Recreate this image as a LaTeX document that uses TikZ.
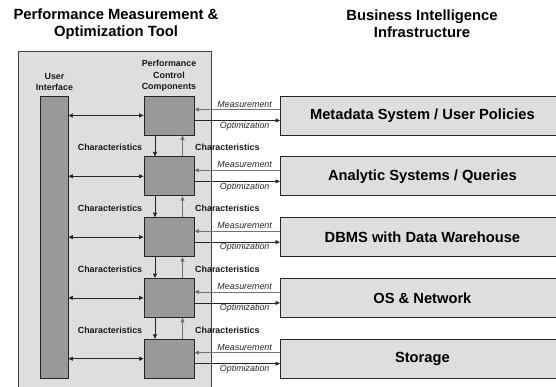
\documentclass[tikz,border=0pt]{standalone}
\usepackage{fontspec}
\setmainfont{Liberation Sans}
\usetikzlibrary{arrows.meta}
\begin{document}
\begin{tikzpicture}[x=1pt,y=-1pt,
  lbl/.style={font=\fontsize{8.9}{11.4}\selectfont\bfseries, align=center, inner sep=0pt, text=black!90},
  ttl/.style={font=\fontsize{14.8}{17}\selectfont\bfseries, align=center, inner sep=0pt},
  itl/.style={font=\fontsize{8.9}{10}\selectfont\itshape, text=black!85, inner sep=0pt},
  tool/.style={draw=black!75, fill=black!13, line width=0.8pt},
  dark/.style={draw=black!85, fill=black!40, line width=0.8pt, inner sep=0pt},
  light/.style={draw=black!85, fill=black!13, line width=0.8pt, inner sep=0pt,
    minimum width=284pt, minimum height=39pt, anchor=west,
    font=\fontsize{14.7}{16}\selectfont\bfseries},
  tip/.tip={Triangle[length=4.5pt,width=4pt]},
  arr/.style={-tip, line width=0.7pt, draw=black!85},
  garr/.style={-tip, line width=0.7pt, draw=black!55},
  darr/.style={tip-tip, line width=0.7pt, draw=black!85}
]
\useasboundingbox (0,0) rectangle (556,387);

% titles
\node[ttl] (t1) at (116,24) {Performance Measurement \&\\Optimization Tool};
\node[ttl] (t2) at (422,24) {Business Intelligence\\Infrastructure};

% tool frame
\node[tool, minimum width=193pt, minimum height=344pt, inner sep=0pt] (frame) at (114.5,223) {};

\node[lbl] (uil) at (54.5,82) {User\\Interface};
\node[lbl] (pcl) at (169,76) {Performance\\Control\\Components};

\node[dark, minimum width=27.3pt, minimum height=282pt] (ui) at (54.35,237) {};

\foreach \i/\y/\t in {1/115.5/{Metadata System / User Policies},
                      2/176.3/{Analytic Systems / Queries},
                      3/237.1/{DBMS with Data Warehouse},
                      4/297.9/{OS \& Network},
                      5/358.7/{Storage}}{
  \node[dark, minimum width=50pt, minimum height=39pt] (p\i) at (169,\y) {};
  \node[light] (r\i) at (280,\y) {\t};
  \draw[darr] (ui.east |- p\i.west) -- (p\i.west);
  \draw[garr] ([yshift=6pt]r\i.west) -- ([yshift=6pt]p\i.east);
  \draw[arr] ([yshift=-5pt]p\i.east) -- ([yshift=-5pt]r\i.west);
  \node[itl] (m\i) at (244.7,\y-11.5) {Measurement};
  \node[itl] (o\i) at (244.7,\y+10.5) {Optimization};
}

\foreach \i/\j/\y in {1/2/147.5, 2/3/208.3, 3/4/269.1, 4/5/329.9}{
  \draw[arr] ([xshift=-14pt]p\i.south) -- ([xshift=-14pt]p\j.north);
  \draw[garr] ([xshift=13.5pt]p\j.north) -- ([xshift=13.5pt]p\i.south);
  \node[lbl] (cl\i) at (110,\y) {Characteristics};
  \node[lbl, anchor=west] (cr\i) at (195,\y) {Characteristics};
}
\end{tikzpicture}
\end{document}
